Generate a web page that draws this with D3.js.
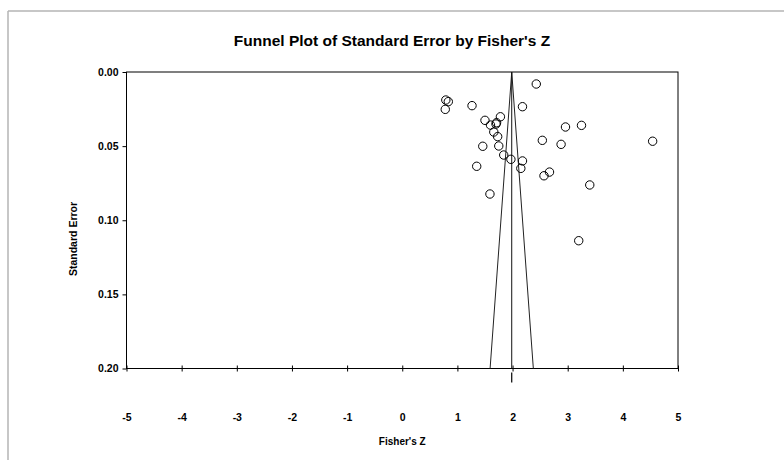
<!DOCTYPE html>
<html>
<head>
<meta charset="utf-8">
<script src="https://cdn.jsdelivr.net/npm/d3@7"></script>
<style>
  body { margin: 0; background: #fff; }
  text { font-family: "Liberation Sans", Arial, sans-serif; font-weight: bold; fill: #000; }
</style>
</head>
<body>
<div id="chart"></div>
<script>
// study effects (Fisher's Z) and their standard errors
const studyZ = [0.79, 0.835, 0.78, 1.265, 2.43, 2.18, 1.78, 1.50, 1.60, 1.71, 1.70, 1.66, 1.73, 1.46, 1.75,
    1.84, 1.97, 2.18, 2.15, 1.35, 2.54, 2.88, 1.59, 2.96, 3.25, 4.54, 2.67, 2.57, 3.40, 3.20];
const studySE = [0.0189, 0.0200, 0.0252, 0.0227, 0.0081, 0.0234, 0.0302, 0.0326, 0.0358, 0.0342, 0.0351, 0.0405, 0.0436, 0.0501, 0.0499,
    0.0560, 0.0589, 0.0600, 0.0650, 0.0636, 0.0461, 0.0488, 0.0823, 0.0371, 0.0360, 0.0467, 0.0675, 0.0700, 0.0762, 0.1138];
const meanZ = 1.985;
const xTicks = [-5, -4, -3, -2, -1, 0, 1, 2, 3, 4, 5];
const yTicks = [0, 0.05, 0.10, 0.15, 0.20];

const W = 784, H = 460;
const svg = d3.select('#chart').append('svg')
    .attr('width', W)
    .attr('height', H);

// page frame
svg.append('line').attr('x1', 8).attr('y1', 11).attr('x2', W).attr('y2', 11)
    .attr('stroke', '#b4b4b4').attr('stroke-width', 1.5);
svg.append('line').attr('x1', 8).attr('y1', 11).attr('x2', 8).attr('y2', H)
    .attr('stroke', '#b4b4b4').attr('stroke-width', 1.5);

const x = d3.scaleLinear().domain([-5, 5]).range([126.5, 678]);
const y = d3.scaleLinear().domain([0, 0.2]).range([72, 368.5]);

// title
svg.append('text')
    .attr('x', 392).attr('y', 46)
    .attr('text-anchor', 'middle')
    .style('font-size', '15.5px')
    .text("Funnel Plot of Standard Error by Fisher's Z");

// plot box
svg.append('rect')
    .attr('x', x(-5)).attr('y', y(0))
    .attr('width', x(5) - x(-5)).attr('height', y(0.2) - y(0))
    .attr('fill', 'none').attr('stroke', '#000').attr('stroke-width', 1);

// x axis
const xAxis = svg.append('g')
    .attr('transform', `translate(0,${y(0.2)})`)
    .call(d3.axisBottom(x).tickValues(xTicks).tickSize(0).tickPadding(0).tickFormat(d => String(d)));
xAxis.select('.domain').remove();
xAxis.selectAll('.tick line').remove();
xAxis.selectAll('.tick').append('line')
    .attr('y1', -3).attr('y2', 3).attr('stroke', '#000');
xAxis.selectAll('.tick text')
    .attr('y', 52).attr('dy', 0)
    .style('font-size', '10.5px');

// y axis
const yAxis = svg.append('g')
    .attr('transform', `translate(${x(-5)},0)`)
    .call(d3.axisLeft(y).tickValues(yTicks).tickSize(4).tickPadding(4).tickFormat(d3.format('.2f')));
yAxis.select('.domain').remove();
yAxis.selectAll('.tick line').attr('stroke', '#000');
yAxis.selectAll('.tick text').style('font-size', '10.5px');

// axis titles
svg.append('text')
    .attr('x', x(0)).attr('y', 445)
    .attr('text-anchor', 'middle')
    .style('font-size', '10px')
    .text("Fisher's Z");
svg.append('text')
    .attr('transform', `translate(77,239) rotate(-90)`)
    .attr('text-anchor', 'middle')
    .style('font-size', '10.5px')
    .text('Standard Error');

// funnel
const half = 1.96 * 0.2;
svg.append('path')
    .attr('d', d3.line()([[x(meanZ - half), y(0.2)], [x(meanZ), y(0)], [x(meanZ + half), y(0.2)]]))
    .attr('fill', 'none').attr('stroke', '#222').attr('stroke-width', 1);
svg.append('line')
    .attr('x1', x(meanZ)).attr('x2', x(meanZ))
    .attr('y1', y(0)).attr('y2', y(0.2))
    .attr('stroke', '#111').attr('stroke-width', 1);
// combined effect mark below axis
svg.append('line')
    .attr('x1', x(meanZ)).attr('x2', x(meanZ))
    .attr('y1', y(0.2) + 4).attr('y2', y(0.2) + 14)
    .attr('stroke', '#000').attr('stroke-width', 1.2);

// studies
svg.selectAll('.pt')
    .data(studyZ.map((z, i) => ({ z, se: studySE[i] })))
    .enter()
    .append('circle')
    .attr('class', 'pt')
    .attr('cx', d => x(d.z))
    .attr('cy', d => y(d.se))
    .attr('r', 4.2)
    .attr('fill', 'none')
    .attr('stroke', '#000')
    .attr('stroke-width', 1);
</script>
</body>
</html>
